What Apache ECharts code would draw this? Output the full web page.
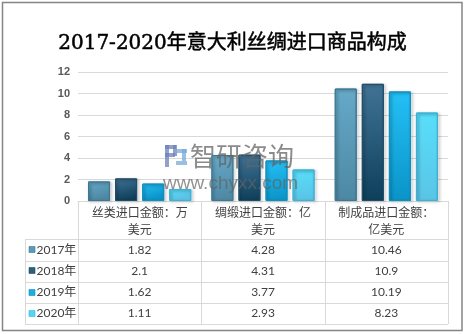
<!DOCTYPE html>
<html>
<head>
<meta charset="utf-8">
<script src="https://cdn.jsdelivr.net/npm/echarts@6/dist/echarts.min.js"></script>
<style>
  html, body { margin: 0; padding: 0; background: #fff; }
  #chart { width: 465px; height: 334px; }
</style>
</head>
<body>
<div id="chart"></div>
<script>
// Import value categories (header labels of the data table)
var categories = ['丝类进口金额：万\n美元', '绸缎进口金额：亿\n美元', '制成品进口金额：\n亿美元'];
// Years shown as series
var years = ['2017年', '2018年', '2019年', '2020年'];
// Values per year, in category order
var values2017 = [1.82, 4.28, 10.46];
var values2018 = [2.1, 4.31, 10.9];
var values2019 = [1.62, 3.77, 10.19];
var values2020 = [1.11, 2.93, 8.23];
// Value axis ticks
var yTicks = [0, 2, 4, 6, 8, 10, 12];

var seriesValues = [values2017, values2018, values2019, values2020];

// top / bottom gradient colours and border for each year
var palette = [
  { top: '#66A9C9', bottom: '#4D88A3', border: '#3F7891', key: '#5B9BBA' },
  { top: '#417396', bottom: '#0E405B', border: '#1F4D68', key: '#2F5F7D' },
  { top: '#24C0F6', bottom: '#0A94C8', border: '#1190C0', key: '#19AEE4' },
  { top: '#58DFFB', bottom: '#5AC4E6', border: '#3BB3D8', key: '#55D4F4' }
];

var chart = echarts.init(document.getElementById('chart'), null, { renderer: 'canvas' });

var gridLeft = 78, gridRight = 448, gridTop = 72, gridBottom = 201;
var lineColor = '#D9D9D9';

var series = years.map(function (name, i) {
  var c = palette[i];
  return {
    name: name,
    type: 'bar',
    data: seriesValues[i],
    barWidth: 22,
    barGap: '23%',
    itemStyle: {
      color: new echarts.graphic.LinearGradient(0, 0, 0.25, 1, [
        { offset: 0, color: c.top },
        { offset: 1, color: c.bottom }
      ]),
      borderColor: c.border,
      borderWidth: 1,
      shadowColor: 'rgba(0,0,0,0.35)',
      shadowBlur: 3,
      shadowOffsetX: 1.5,
      shadowOffsetY: 1
    }
  };
});

chart.setOption({
  animation: false,
  title: {
    text: '2017-2020年意大利丝绸进口商品构成',
    left: 'center',
    top: 29,
    textStyle: {
      fontFamily: '"DejaVu Serif", "Noto Sans CJK SC", serif',
      fontSize: 20,
      fontWeight: 'normal',
      color: '#000',
      textBorderColor: '#000',
      textBorderWidth: 0.5
    }
  },
  grid: {
    left: gridLeft,
    right: 465 - gridRight,
    top: gridTop,
    bottom: 334 - gridBottom,
    containLabel: false
  },
  xAxis: {
    type: 'category',
    data: categories,
    axisLine: { show: true, lineStyle: { color: lineColor, width: 1 } },
    axisTick: { show: false },
    axisLabel: { show: false }
  },
  yAxis: {
    type: 'value',
    min: yTicks[0],
    max: yTicks[yTicks.length - 1],
    interval: yTicks[1] - yTicks[0],
    axisLine: { show: false },
    axisTick: { show: false },
    axisLabel: {
      margin: 8,
      color: '#595959',
      fontFamily: '"Liberation Sans", Arial, sans-serif',
      fontWeight: 'bold',
      fontSize: 11
    },
    splitLine: { lineStyle: { color: lineColor, width: 1 } }
  },
  series: series
});

// ---- data table under the plot ----
var centers = categories.map(function (c, i) {
  return chart.convertToPixel({ xAxisIndex: 0 }, i);
});
var step = centers[1] - centers[0];
var colEdges = [centers[0] - step / 2, centers[0] + step / 2, centers[1] + step / 2, centers[2] + step / 2];
var tableLeft = 25;
var headerTop = gridBottom, headerBottom = 239;
var rowEdges = [239, 260.5, 282, 303, 324];

var g = [];
function hline(x1, x2, y) {
  g.push({ type: 'line', shape: { x1: x1, y1: y, x2: x2, y2: y }, style: { stroke: lineColor, lineWidth: 1 }, silent: true });
}
function vline(x, y1, y2) {
  g.push({ type: 'line', shape: { x1: x, y1: y1, x2: x, y2: y2 }, style: { stroke: lineColor, lineWidth: 1 }, silent: true });
}

// grid lines of the table
colEdges.forEach(function (x) { vline(Math.round(x) + 0.5, headerTop, rowEdges[4]); });
vline(tableLeft + 0.5, rowEdges[0], rowEdges[4]);
rowEdges.forEach(function (y) { hline(tableLeft, colEdges[3], Math.round(y) + 0.5); });

// header labels
categories.forEach(function (label, i) {
  g.push({
    type: 'text',
    x: centers[i],
    y: (headerTop + headerBottom) / 2 + 1,
    style: {
      text: label,
      align: 'center',
      verticalAlign: 'middle',
      fontFamily: '"Noto Sans CJK SC", sans-serif',
      fontSize: 12,
      lineHeight: 17,
      fill: '#404040'
    },
    silent: true
  });
});

// legend keys and values per year
years.forEach(function (name, r) {
  var yMid = (rowEdges[r] + rowEdges[r + 1]) / 2;
  g.push({
    type: 'rect',
    shape: { x: 29, y: Math.round(yMid) - 3.5, width: 6, height: 6 },
    style: { fill: palette[r].key, stroke: palette[r].border, lineWidth: 0.6 },
    silent: true
  });
  g.push({
    type: 'text',
    x: 36.5,
    y: yMid,
    style: {
      text: name,
      align: 'left',
      verticalAlign: 'middle',
      fontFamily: 'Lato, "Noto Sans CJK SC", sans-serif',
      fontSize: 12,
      fill: '#404040'
    },
    silent: true
  });
  seriesValues[r].forEach(function (v, i) {
    g.push({
      type: 'text',
      x: centers[i],
      y: yMid,
      style: {
        text: String(v),
        align: 'center',
        verticalAlign: 'middle',
        fontFamily: 'Lato, sans-serif',
        fontSize: 12,
        fill: '#404040'
      },
      silent: true
    });
  });
});

// outer frame
g.push({
  type: 'rect',
  shape: { x: 2.5, y: 2.5, width: 459.5, height: 328 },
  style: { fill: 'none', stroke: '#858585', lineWidth: 1.5 },
  silent: true
});

// site watermark
g.push({
  type: 'group', x: 165, y: 145, z: 100, silent: true,
  children: [
    { type: 'rect', shape: { x: 0, y: 0, width: 4, height: 22 }, style: { fill: 'rgba(110,130,185,0.75)' } },
    { type: 'rect', shape: { x: 0, y: 0, width: 11, height: 4 }, style: { fill: 'rgba(110,130,185,0.75)' } },
    { type: 'rect', shape: { x: 8, y: 0, width: 4, height: 11 }, style: { fill: 'rgba(110,130,185,0.75)' } },
    { type: 'rect', shape: { x: 0, y: 8, width: 10, height: 4 }, style: { fill: 'rgba(110,130,185,0.75)' } },
    { type: 'rect', shape: { x: 12, y: 4, width: 10, height: 4 }, style: { fill: 'rgba(120,170,220,0.75)' } },
    { type: 'rect', shape: { x: 17, y: 4, width: 4, height: 12 }, style: { fill: 'rgba(120,170,220,0.75)' } },
    { type: 'rect', shape: { x: 11, y: 16, width: 11, height: 4 }, style: { fill: 'rgba(120,170,220,0.75)' } }
  ]
});
g.push({
  type: 'text', x: 190, y: 156, z: 100, silent: true,
  style: {
    text: '智研咨询',
    align: 'left',
    verticalAlign: 'middle',
    fontFamily: '"Noto Sans CJK SC", sans-serif',
    fontWeight: 'normal',
    fontSize: 26,
    fill: 'rgba(100,100,100,0.75)'
  }
});
g.push({
  type: 'text', x: 163, y: 184, z: 100, silent: true,
  style: {
    text: 'www.chyxx.com',
    align: 'left',
    verticalAlign: 'middle',
    fontFamily: '"Liberation Sans", Arial, sans-serif',
    fontSize: 19,
    fill: 'rgba(100,100,100,0.7)'
  }
});

chart.setOption({ graphic: g });
</script>
</body>
</html>
